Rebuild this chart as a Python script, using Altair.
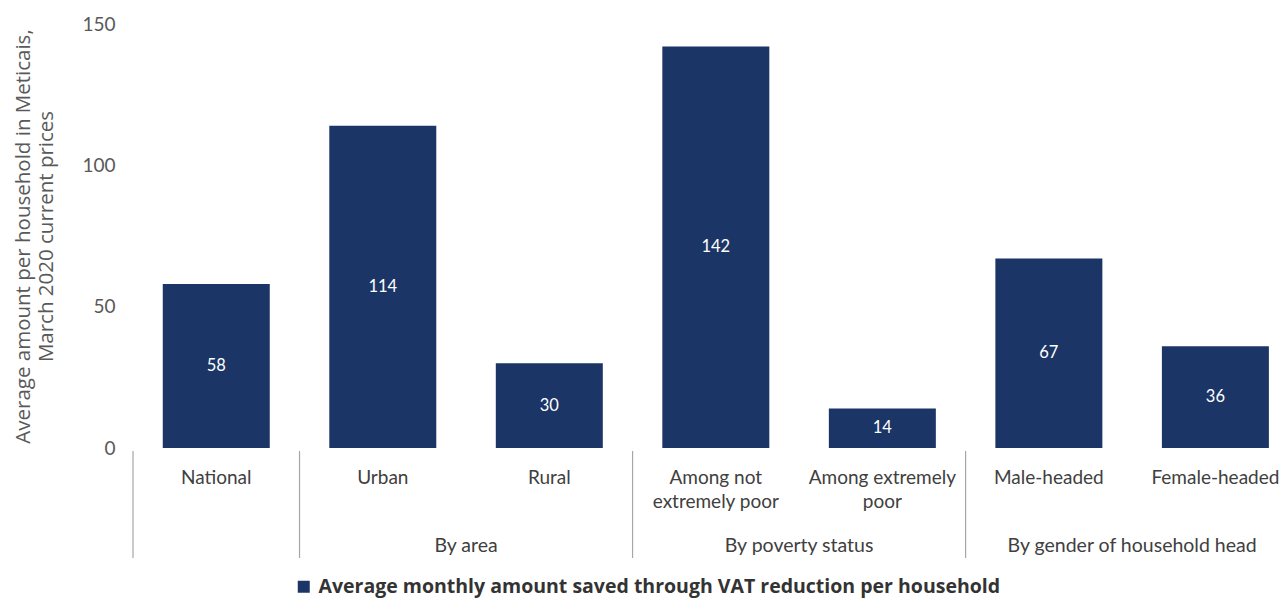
import altair as alt
import pandas as pd

# ---- data ----
categories = ["National", "Urban", "Rural", "Among not\nextremely poor",
              "Among extremely\npoor", "Male-headed", "Female-headed"]
values = [58, 114, 30, 142, 14, 67, 36]
group_of = ["", "By area", "By area", "By poverty status", "By poverty status",
            "By gender of household head", "By gender of household head"]
series_name = "Average monthly amount saved through VAT reduction per household"
y_ticks = [0, 50, 100, 150]
y_title = ["Average amount per household in Meticais,", "March 2020 current prices"]

BAR = "#1b3566"
W, H = 1144, 424

bars_df = pd.DataFrame({
    "idx": list(range(len(categories))),
    "cat": categories,
    "value": values,
    "series": [series_name] * len(categories),
})
bars_df["half"] = bars_df["value"] / 2

grp_df = pd.DataFrame({"idx": range(len(group_of)), "group": group_of})
centers = (grp_df[grp_df.group != ""].groupby("group", sort=False)["idx"].mean()
           .reset_index().rename(columns={"idx": "center"}))
starts = grp_df.groupby("group", sort=False)["idx"].min().reset_index()
sep_df = pd.DataFrame({"sep": sorted(starts["idx"] - 0.5)})

# the right end of the last band is cut off by the frame, as in the reference
x_scale = alt.Scale(domain=[-0.5, len(categories) - 0.63], nice=False, zero=False,
                    padding=0)
y_scale = alt.Scale(domain=[0, 150], nice=False)

bars = alt.Chart(bars_df).mark_bar(size=107).encode(
    x=alt.X("idx:Q", scale=x_scale, axis=None),
    y=alt.Y("value:Q", scale=y_scale,
            axis=alt.Axis(values=y_ticks, grid=False, domain=False, ticks=False,
                          labelPadding=18, labelFontSize=19, labelColor="#595959",
                          labelFont="Lato", title=y_title, titleFont="Open Sans",
                          titleFontSize=20.5, titleFontWeight="normal",
                          titleColor="#595959", titleLineHeight=23,
                          titleX=-100, titleY=H / 2, titleAngle=-90,
                          titleBaseline="bottom", titleAnchor="middle")),
    color=alt.Color("series:N", scale=alt.Scale(range=[BAR]),
                    legend=alt.Legend(title=None, orient="none", legendX=161,
                                      legendY=553, symbolType="square",
                                      symbolSize=144, symbolStrokeWidth=0,
                                      labelFont="Open Sans",
                                      labelFontWeight="bold", labelFontSize=19.5,
                                      labelColor="#333333", labelLimit=1000,
                                      labelOffset=5)),
)

bar_labels = alt.Chart(bars_df).mark_text(
    color="white", fontSize=16.5, font="Lato", baseline="middle"
).encode(
    x=alt.X("idx:Q", scale=x_scale),
    y=alt.Y("half:Q", scale=y_scale),
    text=alt.Text("value:Q"),
)

cat_labels = alt.Chart(bars_df).mark_text(
    color="#404040", fontSize=19, font="Lato", baseline="alphabetic",
    lineBreak="\n", lineHeight=24, align="center"
).encode(
    x=alt.X("idx:Q", scale=x_scale),
    y=alt.value(H + 36),
    text="cat:N",
)

grp_labels = alt.Chart(centers).mark_text(
    color="#404040", fontSize=19.5, font="Lato", baseline="alphabetic", align="center"
).encode(
    x=alt.X("center:Q", scale=x_scale),
    y=alt.value(H + 104),
    text="group:N",
)

seps = alt.Chart(sep_df).mark_rule(color="#a6a6a6", strokeWidth=1.2).encode(
    x=alt.X("sep:Q", scale=x_scale),
    y=alt.value(H + 3),
    y2=alt.value(H + 110),
)

chart = alt.layer(bars, bar_labels, cat_labels, grp_labels, seps).properties(
    width=W, height=H,
    padding={"left": 125, "top": 16, "right": 2, "bottom": 150},
    autosize=alt.AutoSizeParams(type="none"),
    background="white",
).configure_view(stroke=None)

chart.save("out.html", embed_options={"renderer": "svg", "actions": False})
